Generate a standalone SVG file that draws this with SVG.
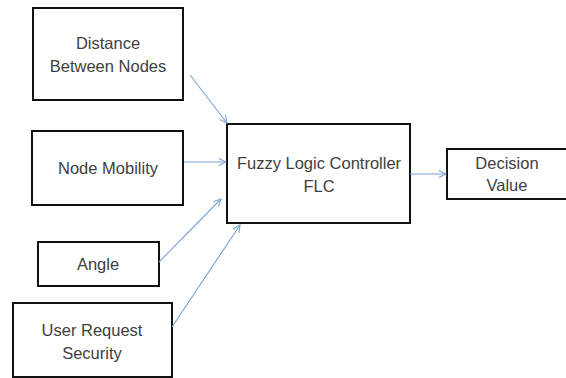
<svg xmlns="http://www.w3.org/2000/svg" width="566" height="378" viewBox="0 0 566 378">
<defs>
<marker id="arr" viewBox="0 0 10 10" refX="9" refY="5" markerWidth="9" markerHeight="9" markerUnits="userSpaceOnUse" orient="auto">
<path d="M1,1 L9,5 L1,9" fill="none" stroke="#7aa3d4" stroke-width="1.2"/>
</marker>
<style>
.box{fill:#fff;stroke:#111;stroke-width:2}
.t{font-family:"Liberation Sans",Arial,sans-serif;font-size:16.5px;fill:#404040;text-anchor:middle}
.c{stroke:#7aa3d4;stroke-width:1.1;fill:none;marker-end:url(#arr)}
</style>
</defs>
<rect width="566" height="378" fill="#fff"/>
<g id="n1"><rect class="box" x="33" y="8" width="150" height="92"/><text class="t" x="108" y="49">Distance</text><text class="t" x="108" y="72">Between Nodes</text></g>
<g id="n2"><rect class="box" x="32" y="131" width="151" height="74"/><text class="t" x="108" y="174">Node Mobility</text></g>
<g id="n3"><rect class="box" x="38" y="242" width="121" height="44"/><text class="t" x="98" y="270">Angle</text></g>
<g id="n4"><rect class="box" x="13" y="303" width="159" height="74"/><text class="t" x="92" y="336">User Request</text><text class="t" x="92" y="359">Security</text></g>
<g id="flc"><rect class="box" x="227" y="124" width="183" height="99"/><text class="t" x="319" y="169">Fuzzy Logic Controller</text><text class="t" x="319" y="192">FLC</text></g>
<g id="dv"><rect class="box" x="447" y="149" width="125" height="50"/><text class="t" x="507" y="169">Decision</text><text class="t" x="507" y="191">Value</text></g>
<g id="connectors">
<line class="c" x1="190" y1="75" x2="227" y2="123"/>
<line class="c" x1="184" y1="162" x2="226" y2="162"/>
<line class="c" x1="159" y1="262" x2="221" y2="199"/>
<line class="c" x1="172" y1="327" x2="240" y2="225"/>
<line class="c" x1="410" y1="174" x2="446" y2="174"/>
</g>
</svg>
